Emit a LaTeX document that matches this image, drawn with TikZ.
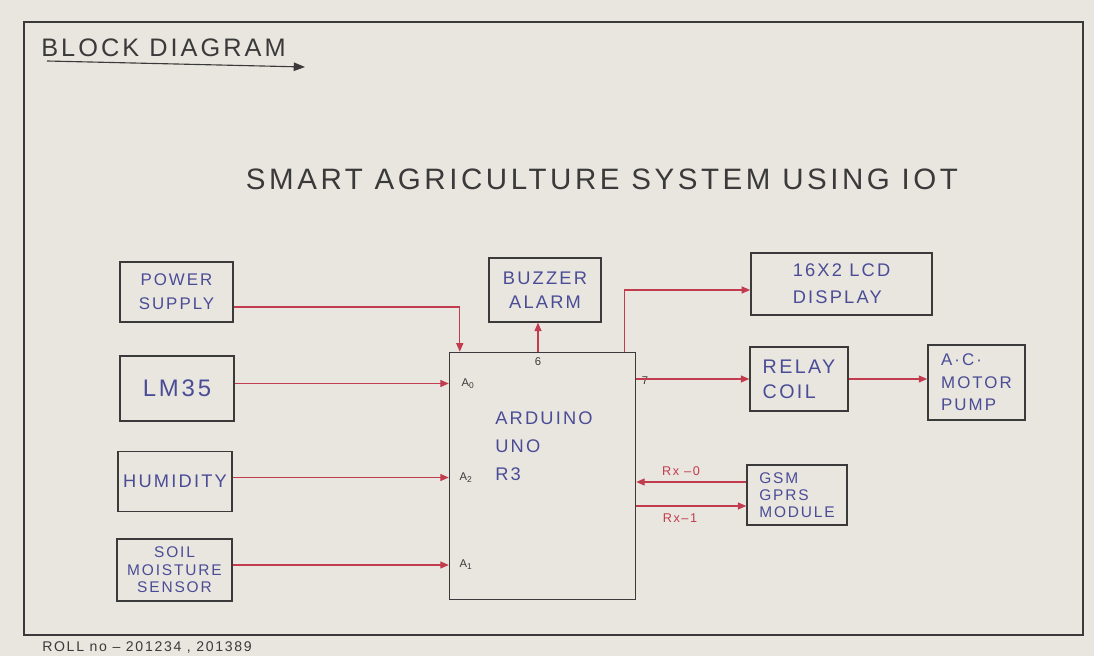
\documentclass[tikz,border=0pt]{standalone}
\usepackage{fontspec}
\setmainfont{Liberation Sans}
\newfontfamily\hand[LetterSpace=12]{Liberation Sans}
\usetikzlibrary{calc,positioning,arrows.meta}
\definecolor{paper}{HTML}{E9E6E0}
\definecolor{pencil}{HTML}{3A3A3A}
\definecolor{ink}{HTML}{4A4C96}
\definecolor{wire}{HTML}{C23B4E}

\begin{document}
\begin{tikzpicture}[
    x=0.025cm, y=-0.025cm,
    blk/.style={draw=pencil, line width=1pt, align=center, text=ink, inner sep=2pt},
    arr/.style={-{Triangle[length=6pt,width=5pt]}, draw=wire, line width=0.8pt},
    pin/.style={font=\hand\fontsize{8}{9}\selectfont, text=pencil, inner sep=1pt},
    rx/.style={font=\hand\fontsize{9}{10}\selectfont, text=wire, inner sep=1pt}
]
\useasboundingbox[fill=paper] (0,0) rectangle (1094,656);
\draw[pencil, line width=0.8pt] (24,22) rectangle (1083,635);

% headings
\node[anchor=base west, text=pencil, font=\hand\fontsize{18}{22}\selectfont, inner sep=0pt] (head) at (41,57) {BLOCK DIAGRAM};
\coordinate (u0) at (47,61);
\coordinate (u1) at (305,67);
\draw[-{Triangle[length=8pt,width=6pt]}, pencil, line width=0.8pt] (u0) -- (u1);
\node[anchor=base, text=pencil, font=\hand\fontsize{21}{25}\selectfont, inner sep=0pt] (title) at (602,190) {SMART AGRICULTURE SYSTEM USING IOT};
\node[anchor=base west, text=pencil, font=\hand\fontsize{10}{12}\selectfont, inner sep=0pt] (roll) at (42,651) {ROLL no – 201234 , 201389};

% inputs
\node[blk, minimum width=2.83cm, minimum height=1.5cm, font=\hand\fontsize{12}{17}\selectfont] (psu) at (176.5,292) {POWER\\SUPPLY};
\node[blk, minimum width=2.85cm, minimum height=1.63cm, font=\hand\fontsize{17}{20}\selectfont] (lm) at (177,388.5) {LM35};
\node[blk, minimum width=2.85cm, minimum height=1.5cm, font=\hand\fontsize{13}{16}\selectfont] (hum) at (175,481.5) {HUMIDITY};
\node[blk, minimum width=2.88cm, minimum height=1.55cm, font=\hand\fontsize{11}{12.5}\selectfont] (soil) at (174.5,570) {SOIL\\MOISTURE\\SENSOR};

% controller
\node[blk, minimum width=4.65cm, minimum height=6.18cm] (uno) at (542.5,476) {};
\node[anchor=north west, align=left, text=ink, inner sep=0pt, font=\hand\fontsize{13}{20}\selectfont] (unotxt) at (495,411) {ARDUINO\\UNO\\R3};

% outputs
\node[blk, minimum width=2.8cm, minimum height=1.6cm, font=\hand\fontsize{13}{17}\selectfont] (buz) at (545,290) {BUZZER\\ALARM};
\node[blk, minimum width=4.53cm, minimum height=1.55cm, font=\hand\fontsize{13}{19}\selectfont, align=left] (lcd) at (841.5,284) {16X2 LCD\\DISPLAY};
\node[blk, minimum width=2.45cm, minimum height=1.6cm, font=\hand\fontsize{14}{18}\selectfont, align=left] (relay) at (799,379) {RELAY\\COIL};
\node[blk, minimum width=2.43cm, minimum height=1.88cm, font=\hand\fontsize{12}{16}\selectfont, align=left] (pump) at (976.5,382.5) {A·C·\\MOTOR\\PUMP};
\node[blk, minimum width=2.5cm, minimum height=1.5cm, font=\hand\fontsize{11}{12}\selectfont, align=left] (gsm) at (797,495) {GSM\\GPRS\\MODULE};

% pin labels
\node[pin] (pa0) at (468,384) {A\textsubscript{0}};
\node[pin] (pa2) at (466,478) {A\textsubscript{2}};
\node[pin] (pa1) at (466,565) {A\textsubscript{1}};
\node[pin] (p6) at (538,362) {6};
\node[pin] (p7) at (645,381) {7};
\node[rx] (rx0) at (681,471) {Rx –0};
\node[rx] (rx1) at (680,518) {Rx–1};

% wires
\coordinate (ps) at ($(psu.east)+(0,15)$);
\coordinate (lmo) at ($(lm.east)+(0,-5)$);
\coordinate (humo) at ($(hum.east)+(0,-4)$);
\coordinate (soilo) at ($(soil.east)+(0,-5)$);
\coordinate (bz) at ($(uno.north)+(-4.5,0)$);
\coordinate (lc) at ($(uno.north east)+(-11.5,0)$);
\coordinate (g0) at ($(gsm.west)+(0,-13)$);
\coordinate (g1) at ($(gsm.west)+(0,11)$);

\draw[arr] (ps) -| ($(uno.north west)+(11,0)$);
\draw[arr] (lmo) -- (lmo -| uno.west);
\draw[arr] (humo) -- (humo -| uno.west);
\draw[arr] (soilo) -- (soilo -| uno.west);
\draw[arr] (bz) -- (bz |- buz.south);
\draw[arr] (lc) |- ($(lcd.west)+(0,6)$);
\draw[arr] (uno.east |- relay.west) -- (relay.west);
\draw[arr] (relay.east) -- (relay.east -| pump.west);
\draw[arr] (g0) -- (g0 -| uno.east);
\draw[arr] (g1 -| uno.east) -- (g1);

\end{tikzpicture}
\end{document}
